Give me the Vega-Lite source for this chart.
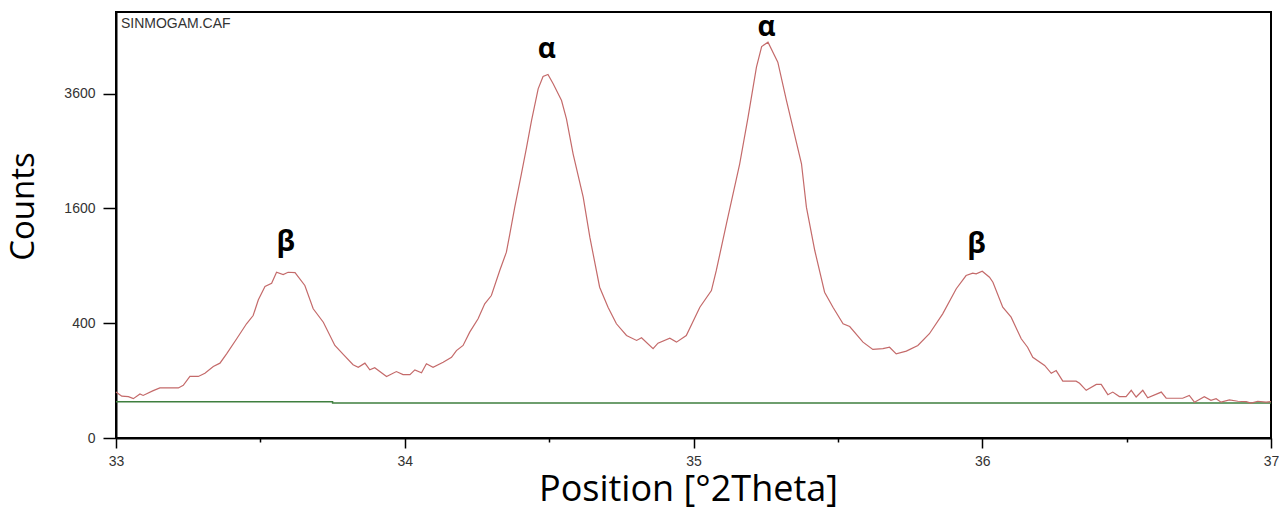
{
  "$schema": "https://vega.github.io/schema/vega-lite/v6.json",
  "autosize": "none",
  "width": 1155,
  "height": 426,
  "padding": {"left": 116, "top": 12, "right": 8, "bottom": 73},
  "background": "white",
  "config": {
    "view": {"stroke": "black", "strokeWidth": 2},
    "axis": {"grid": false, "domainColor": "black", "domainWidth": 2, "tickColor": "black", "tickWidth": 1.5, "labelFont": "Liberation Sans", "labelFontSize": 14, "labelColor": "#333333", "labelFlush": false, "labelOverlap": false, "labelBound": false, "titleFont": "Open Sans", "titleFontWeight": "normal", "titleColor": "black"}
  },
  "datasets": {
    "xrd": [
      {"pos": 33.000, "counts": 64}, {"pos": 33.020, "counts": 53}, {"pos": 33.043, "counts": 52}, {"pos": 33.060, "counts": 47},
      {"pos": 33.083, "counts": 59}, {"pos": 33.094, "counts": 55}, {"pos": 33.129, "counts": 68}, {"pos": 33.152, "counts": 76},
      {"pos": 33.216, "counts": 76}, {"pos": 33.233, "counts": 84}, {"pos": 33.256, "counts": 115}, {"pos": 33.285, "counts": 115},
      {"pos": 33.308, "counts": 127}, {"pos": 33.337, "counts": 155}, {"pos": 33.360, "counts": 170}, {"pos": 33.383, "counts": 215},
      {"pos": 33.418, "counts": 299}, {"pos": 33.452, "counts": 396}, {"pos": 33.475, "counts": 455}, {"pos": 33.493, "counts": 580},
      {"pos": 33.516, "counts": 697}, {"pos": 33.539, "counts": 727}, {"pos": 33.556, "counts": 834}, {"pos": 33.579, "counts": 811},
      {"pos": 33.596, "counts": 834}, {"pos": 33.620, "counts": 831}, {"pos": 33.654, "counts": 706}, {"pos": 33.683, "counts": 507},
      {"pos": 33.718, "counts": 407}, {"pos": 33.758, "counts": 260}, {"pos": 33.787, "counts": 212}, {"pos": 33.821, "counts": 163},
      {"pos": 33.839, "counts": 152}, {"pos": 33.862, "counts": 170}, {"pos": 33.879, "counts": 141}, {"pos": 33.896, "counts": 150},
      {"pos": 33.937, "counts": 115}, {"pos": 33.971, "counts": 134}, {"pos": 33.994, "counts": 122}, {"pos": 34.018, "counts": 122},
      {"pos": 34.035, "counts": 141}, {"pos": 34.058, "counts": 129}, {"pos": 34.075, "counts": 167}, {"pos": 34.098, "counts": 152},
      {"pos": 34.133, "counts": 174}, {"pos": 34.162, "counts": 198}, {"pos": 34.179, "counts": 232}, {"pos": 34.202, "counts": 260},
      {"pos": 34.225, "counts": 340}, {"pos": 34.254, "counts": 431}, {"pos": 34.277, "counts": 547}, {"pos": 34.300, "counts": 616},
      {"pos": 34.329, "counts": 852}, {"pos": 34.352, "counts": 1048}, {"pos": 34.364, "counts": 1266}, {"pos": 34.381, "counts": 1617},
      {"pos": 34.404, "counts": 2118}, {"pos": 34.422, "counts": 2567}, {"pos": 34.439, "counts": 3059}, {"pos": 34.462, "counts": 3701},
      {"pos": 34.479, "counts": 3966}, {"pos": 34.496, "counts": 4010}, {"pos": 34.514, "counts": 3808}, {"pos": 34.543, "counts": 3457},
      {"pos": 34.560, "counts": 3092}, {"pos": 34.583, "counts": 2451}, {"pos": 34.618, "counts": 1760}, {"pos": 34.641, "counts": 1224},
      {"pos": 34.675, "counts": 690}, {"pos": 34.704, "counts": 519}, {"pos": 34.733, "counts": 396}, {"pos": 34.768, "counts": 319},
      {"pos": 34.803, "counts": 289}, {"pos": 34.820, "counts": 305}, {"pos": 34.860, "counts": 242}, {"pos": 34.877, "counts": 273},
      {"pos": 34.918, "counts": 302}, {"pos": 34.941, "counts": 279}, {"pos": 34.975, "counts": 319}, {"pos": 35.022, "counts": 519},
      {"pos": 35.062, "counts": 660}, {"pos": 35.079, "counts": 852}, {"pos": 35.114, "counts": 1393}, {"pos": 35.160, "counts": 2282},
      {"pos": 35.189, "counts": 3123}, {"pos": 35.218, "counts": 4173}, {"pos": 35.236, "counts": 4652}, {"pos": 35.258, "counts": 4754},
      {"pos": 35.292, "counts": 4286}, {"pos": 35.322, "counts": 3457}, {"pos": 35.374, "counts": 2282}, {"pos": 35.391, "counts": 1617},
      {"pos": 35.420, "counts": 1067}, {"pos": 35.454, "counts": 645}, {"pos": 35.483, "counts": 519}, {"pos": 35.518, "counts": 396},
      {"pos": 35.541, "counts": 377}, {"pos": 35.587, "counts": 279}, {"pos": 35.621, "counts": 238}, {"pos": 35.656, "counts": 242},
      {"pos": 35.679, "counts": 250}, {"pos": 35.702, "counts": 215}, {"pos": 35.737, "counts": 229}, {"pos": 35.777, "counts": 260},
      {"pos": 35.817, "counts": 330}, {"pos": 35.863, "counts": 468}, {"pos": 35.910, "counts": 676}, {"pos": 35.944, "counts": 801},
      {"pos": 35.967, "counts": 824}, {"pos": 35.979, "counts": 818}, {"pos": 36.000, "counts": 844}, {"pos": 36.025, "counts": 785},
      {"pos": 36.037, "counts": 737}, {"pos": 36.071, "counts": 519}, {"pos": 36.100, "counts": 443}, {"pos": 36.135, "counts": 299},
      {"pos": 36.157, "counts": 250}, {"pos": 36.175, "counts": 198}, {"pos": 36.216, "counts": 160}, {"pos": 36.239, "counts": 127},
      {"pos": 36.256, "counts": 138}, {"pos": 36.279, "counts": 98}, {"pos": 36.325, "counts": 98}, {"pos": 36.337, "counts": 91},
      {"pos": 36.360, "counts": 69}, {"pos": 36.395, "counts": 87}, {"pos": 36.412, "counts": 87}, {"pos": 36.435, "counts": 57},
      {"pos": 36.452, "counts": 64}, {"pos": 36.475, "counts": 52}, {"pos": 36.498, "counts": 52}, {"pos": 36.516, "counts": 69},
      {"pos": 36.533, "counts": 51}, {"pos": 36.556, "counts": 69}, {"pos": 36.573, "counts": 49}, {"pos": 36.620, "counts": 64},
      {"pos": 36.637, "counts": 48}, {"pos": 36.694, "counts": 48}, {"pos": 36.717, "counts": 55}, {"pos": 36.735, "counts": 39},
      {"pos": 36.769, "counts": 52}, {"pos": 36.792, "counts": 43}, {"pos": 36.810, "counts": 47}, {"pos": 36.827, "counts": 39},
      {"pos": 36.856, "counts": 44}, {"pos": 36.885, "counts": 41}, {"pos": 36.914, "counts": 40}, {"pos": 36.931, "counts": 37},
      {"pos": 36.954, "counts": 41}, {"pos": 36.983, "counts": 39}, {"pos": 37.000, "counts": 40}
    ],
    "background": [
      {"pos": 33.0, "counts": 40}, {"pos": 33.75, "counts": 40}, {"pos": 33.7501, "counts": 37}, {"pos": 37.0, "counts": 37}
    ],
    "peaks": [
      {"pos": 33.588, "counts": 1067, "label": "β"},
      {"pos": 34.492, "counts": 4394, "label": "α"},
      {"pos": 35.253, "counts": 4917, "label": "α"},
      {"pos": 35.980, "counts": 1044, "label": "β"}
    ],
    "file": [
      {"pos": 33.017, "counts": 5107, "label": "SINMOGAM.CAF"}
    ]
  },
  "encoding": {
    "x": {
      "field": "pos", "type": "quantitative",
      "scale": {"domain": [33, 37], "nice": false, "zero": false},
      "axis": {
        "values": [33, 33.5, 34, 34.5, 35, 35.5, 36, 36.5, 37],
        "labelExpr": "datum.value % 1 === 0 ? format(datum.value, 'd') : ''",
        "tickSize": {"condition": {"test": "datum.value % 1 === 0", "value": 10}, "value": 4},
        "labelPadding": 6,
        "title": "Position [°2Theta]",
        "titleFontSize": 36,
        "titleX": 572,
        "titleY": 62,
        "titleAlign": "center",
        "titleBaseline": "alphabetic"
      }
    },
    "y": {
      "field": "counts", "type": "quantitative",
      "scale": {"type": "sqrt", "domain": [0, 5508], "nice": false, "zero": true},
      "axis": {
        "values": [0, 400, 1600, 3600],
        "format": "d",
        "tickSize": 13,
        "labelPadding": 8,
        "title": "Counts",
        "titleFontSize": 33,
        "titleAngle": -90,
        "titleX": -83,
        "titleY": 194,
        "titleAlign": "center",
        "titleBaseline": "alphabetic"
      }
    }
  },
  "layer": [
    {
      "data": {"name": "background"},
      "mark": {"type": "line", "color": "#3f7f3f", "strokeWidth": 1.5}
    },
    {
      "data": {"name": "xrd"},
      "mark": {"type": "line", "color": "#c46a6a", "strokeWidth": 1.2}
    },
    {
      "data": {"name": "peaks"},
      "mark": {"type": "text", "font": "Open Sans", "fontWeight": "bold", "fontSize": 28, "color": "black", "align": "center", "baseline": "alphabetic"},
      "encoding": {"text": {"field": "label", "type": "nominal"}}
    },
    {
      "data": {"name": "file"},
      "mark": {"type": "text", "font": "Liberation Sans", "fontSize": 14, "color": "#333333", "align": "left", "baseline": "alphabetic"},
      "encoding": {"text": {"field": "label", "type": "nominal"}}
    }
  ]
}
